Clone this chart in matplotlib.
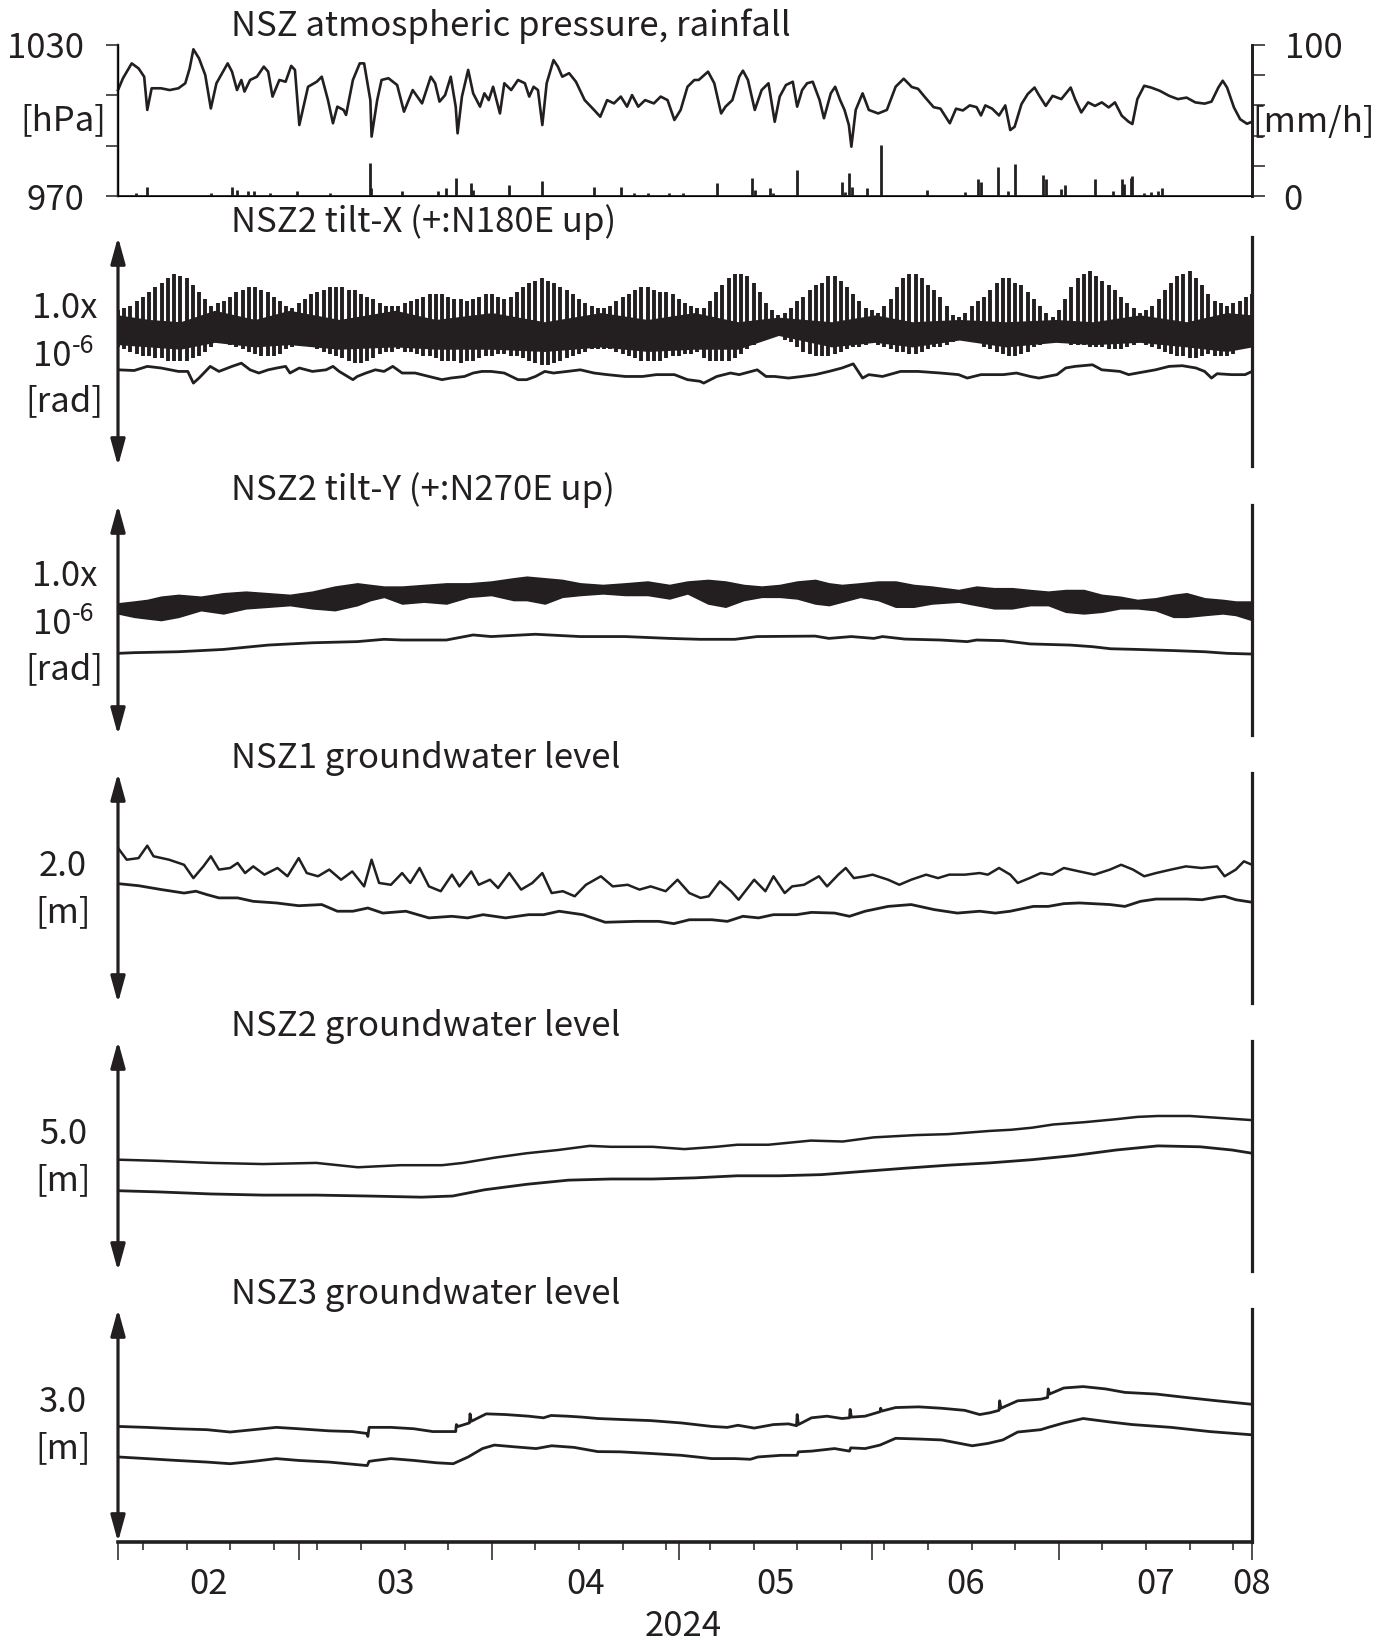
import numpy as np
import matplotlib.pyplot as plt
from matplotlib.transforms import ScaledTranslation

plt.rcParams['font.family'] = ['Noto Sans CJK JP', 'DejaVu Sans']

INK = '#231f20'
FIG_W, FIG_H = 1392, 1648
X0, X1 = 118, 1252            # left / right edge of the plots (pixels)
T0 = np.datetime64('2024-02-01')
N_DAYS = 182                  # 2024-02-01 .. 2024-08-01
FS = 25

# ---------------------------------------------------------------- data
# time in days since 2024-02-01

# atmospheric pressure (day, hPa)
pressure = [
    (0.0, 1012.1), (0.8, 1016.8), (2.2, 1022.7), (3.3, 1020.7), (4.2, 1017.4), (4.7, 1004.2),
    (5.4, 1012.8), (6.9, 1012.8), (8.3, 1012.1), (9.7, 1012.8), (10.8, 1014.8), (11.5, 1020.7),
    (12.1, 1028.3), (13.0, 1024.7), (14.0, 1018.1), (14.9, 1004.8), (15.8, 1014.8), (17.6, 1022.7),
    (18.3, 1019.4), (19.1, 1012.1), (19.8, 1016.1), (20.3, 1011.5), (21.2, 1016.1), (22.3, 1017.4),
    (23.4, 1021.4), (24.1, 1019.4), (24.8, 1009.5), (25.9, 1016.1), (26.9, 1015.4), (27.8, 1021.7),
    (28.4, 1020.1), (29.1, 998.2), (30.5, 1013.4), (31.9, 1015.4), (32.7, 1017.4), (33.7, 1008.1),
    (34.5, 998.9), (35.2, 1005.5), (36.2, 1004.2), (36.6, 1002.2), (37.7, 1016.1), (38.8, 1022.7),
    (39.5, 1022.7), (40.5, 1008.1), (40.7, 993.6), (41.6, 1008.1), (42.3, 1016.1), (43.4, 1016.8),
    (44.8, 1014.1), (45.9, 1003.5), (47.3, 1012.1), (48.8, 1006.8), (50.2, 1017.4), (50.9, 1014.8),
    (51.6, 1007.5), (52.5, 1010.1), (53.4, 1017.4), (54.2, 1005.5), (54.5, 994.9), (55.2, 1009.5),
    (56.2, 1020.1), (57.0, 1010.8), (58.1, 1005.5), (58.8, 1010.8), (59.5, 1008.1), (60.2, 1013.4),
    (61.3, 1002.8), (62.0, 1014.8), (63.1, 1012.1), (64.2, 1016.1), (65.3, 1014.8), (66.0, 1009.5),
    (66.7, 1013.4), (67.4, 1012.1), (68.1, 998.2), (68.8, 1014.8), (69.9, 1024.0), (70.6, 1021.4),
    (71.3, 1017.4), (72.4, 1018.8), (73.5, 1015.4), (74.9, 1008.1), (76.4, 1004.2), (77.4, 1001.5),
    (78.5, 1008.1), (79.6, 1006.8), (80.7, 1009.5), (81.7, 1005.5), (82.5, 1010.1), (83.5, 1005.5),
    (84.6, 1008.1), (86.0, 1006.8), (87.1, 1009.5), (88.2, 1008.1), (89.3, 1000.2), (90.3, 1004.2),
    (91.4, 1013.4), (92.5, 1016.1), (93.2, 1016.1), (94.7, 1019.4), (95.7, 1014.8), (96.8, 1002.8),
    (97.5, 1005.5), (98.6, 1008.1), (99.7, 1017.4), (100.3, 1019.8), (101.1, 1016.1), (102.2, 1004.2),
    (103.3, 1012.1), (104.4, 1014.8), (105.4, 999.5), (106.2, 1009.5), (107.2, 1014.1), (108.3, 1015.4),
    (109.0, 1005.5), (109.8, 1012.1), (110.6, 1014.8), (111.5, 1015.4), (112.6, 1008.1), (113.3, 1000.9),
    (114.4, 1010.8), (115.1, 1013.4), (115.9, 1008.1), (116.6, 1004.2), (117.3, 998.2), (117.7, 989.6),
    (118.4, 1004.2), (119.5, 1010.8), (120.5, 1004.2), (122.0, 1002.8), (123.4, 1004.2), (124.8, 1013.4),
    (126.1, 1016.6), (127.4, 1013.3), (128.4, 1012.6), (129.5, 1009.3), (130.9, 1005.3), (132.0, 1004.7),
    (133.5, 998.9), (134.5, 1004.7), (135.6, 1004.0), (136.7, 1006.0), (137.8, 1005.3), (138.5, 1002.0),
    (139.2, 1006.0), (140.3, 1004.7), (141.4, 1002.0), (142.4, 1006.0), (143.2, 996.2), (143.9, 997.5),
    (145.0, 1006.5), (146.0, 1010.5), (147.1, 1013.1), (147.8, 1010.1), (148.9, 1005.8), (150.0, 1009.8),
    (151.4, 1008.5), (152.9, 1013.1), (153.6, 1008.5), (154.6, 1003.2), (155.7, 1007.2), (156.8, 1005.8),
    (157.9, 1007.2), (159.0, 1005.2), (160.0, 1007.2), (161.1, 1001.9), (162.2, 999.5), (162.8, 998.6),
    (163.6, 1008.5), (164.7, 1013.8), (165.8, 1013.1), (167.2, 1011.8), (168.7, 1009.8), (170.1, 1008.5),
    (171.5, 1009.1), (172.9, 1007.2), (174.4, 1006.7), (175.5, 1007.5), (176.6, 1013.1), (177.3, 1015.8),
    (178.0, 1013.1), (179.1, 1005.2), (180.1, 1000.5), (181.2, 998.7), (182.0, 999.5),
]

# hourly rainfall peaks (day, mm/h)
rainfall = [
    (2.9, 1.8), (4.7, 6.2), (14.9, 2.0), (18.3, 6.0), (19.1, 4.0), (20.8, 3.5), (21.9, 3.0),
    (24.4, 2.0), (28.7, 3.0), (34.1, 2.0), (40.4, 21.6), (40.6, 5.0), (45.6, 3.5), (51.3, 3.0),
    (52.7, 5.0), (54.2, 11.7), (56.7, 8.4), (57.0, 4.0), (62.8, 7.3), (68.1, 10.0), (76.4, 5.7),
    (80.7, 6.2), (82.8, 2.0), (85.0, 1.8), (88.5, 2.0), (90.7, 1.8), (96.2, 8.3), (101.8, 12.0),
    (102.2, 4.0), (104.7, 5.5), (105.1, 2.0), (109.0, 17.0), (116.2, 9.0), (116.6, 2.6),
    (117.4, 15.3), (117.8, 6.0), (120.2, 5.5), (122.5, 33.8), (129.9, 3.9), (136.0, 2.6),
    (138.1, 11.0), (138.5, 9.0), (141.2, 19.0), (142.9, 3.3), (143.9, 21.0), (148.5, 14.0),
    (148.9, 11.0), (151.4, 4.8), (152.0, 7.6), (156.8, 11.0), (159.7, 3.3), (161.1, 11.0),
    (161.5, 8.0), (162.6, 12.0), (162.8, 13.0), (164.7, 1.7), (165.8, 2.5), (166.9, 3.3), (167.6, 5.5),
]

# levels below are in % of each panel's scale arrow (arbitrary offset)

# NSZ2 tilt-X: daily tidal extremes, day 0..182
tiltx_hi = [
    68, 69, 70, 72, 74, 76, 78, 80, 82, 84, 83, 82, 79, 76, 73, 70, 71, 72, 74, 76,
    77, 78, 78, 77, 76, 74, 72, 70, 69, 71, 73, 75, 76, 77, 78, 78, 78, 77, 77, 75,
    74, 73, 71, 70, 70, 70, 71, 72, 73, 74, 75, 75, 75, 74, 73, 73, 72, 73, 74, 75,
    75, 74, 73, 74, 76, 78, 80, 81, 82, 81, 80, 78, 77, 75, 73, 71, 70, 69, 69, 70,
    72, 74, 75, 77, 78, 78, 77, 76, 76, 75, 73, 71, 70, 69, 69, 72, 76, 79, 82, 84,
    84, 83, 80, 76, 71, 68, 66, 67, 69, 72, 74, 77, 79, 80, 83, 83, 81, 78, 75, 72,
    69, 68, 67, 70, 73, 78, 82, 84, 84, 82, 79, 77, 74, 70, 66, 65, 67, 70, 72, 74,
    77, 80, 82, 82, 80, 79, 76, 73, 70, 67, 65, 68, 73, 78, 82, 84, 85, 83, 81, 79,
    77, 74, 71, 69, 67, 68, 70, 73, 77, 80, 83, 84, 85, 82, 79, 75, 72, 71, 70, 71,
    72, 74, 75,
]
tiltx_lo = [
    52, 51, 50, 49, 48, 48, 47, 47, 46, 46, 46, 46, 47, 48, 50, 52, 54, 54, 53, 52,
    51, 50, 49, 48, 48, 48, 49, 51, 52, 53, 53, 52, 51, 50, 49, 48, 47, 46, 45, 45,
    46, 47, 49, 50, 50, 51, 50, 50, 49, 48, 48, 47, 46, 46, 46, 45, 46, 46, 47, 48,
    48, 49, 49, 48, 48, 47, 46, 45, 44, 44, 45, 46, 47, 48, 49, 50, 51, 51, 51, 51,
    50, 49, 48, 47, 46, 46, 46, 46, 47, 48, 48, 49, 49, 50, 47, 46, 46, 46, 46, 47,
    49, 51, 53, 55, 56, 57, 57, 55, 54, 52, 50, 49, 48, 48, 48, 49, 50, 51, 52, 52,
    53, 54, 53, 52, 51, 50, 50, 49, 49, 50, 51, 52, 52, 53, 54, 55, 56, 56, 54, 52,
    51, 50, 49, 48, 48, 49, 50, 52, 53, 54, 54, 54, 54, 53, 53, 53, 52, 52, 52, 51,
    51, 51, 52, 53, 54, 53, 52, 51, 50, 49, 48, 48, 47, 47, 48, 49, 48, 48, 48, 49,
    51, 52, 52,
]
# dense part of the tidal band (day, top, bottom)
tiltx_core = [
    (0, 66, 53), (5, 64, 52), (10, 63, 51), (15.5, 68, 54), (22, 64, 52), (27.5, 68, 53),
    (35.5, 64, 51), (44.5, 68, 52), (51, 64, 51), (60, 67, 51), (68.5, 63, 50), (77.5, 67, 52),
    (85, 64, 50), (92.5, 67, 51), (99.5, 63, 51), (106, 65, 57), (114.5, 63, 52), (121.5, 66, 54),
    (127.5, 63, 52), (135, 64, 55), (142.5, 63, 52), (150.5, 64, 54), (156.5, 63, 53),
    (164, 66, 54), (171.5, 63, 52), (178, 67, 50), (182, 66, 52),
]
# residual tilt-X (day, level)
tiltx_res = [
    (0, 42.0), (2.6, 41.7), (4.7, 43.5), (6.9, 42.8), (9.7, 41.3), (11.2, 41.3), (12.1, 36.2),
    (13.0, 38.4), (14.8, 43.5), (16.2, 41.3), (18.3, 43.5), (19.8, 44.9), (21.2, 42.0), (22.6, 40.6),
    (24.1, 42.0), (25.5, 42.8), (26.9, 43.5), (27.6, 40.6), (29.1, 42.8), (31.2, 41.3), (33.4, 42.0),
    (34.5, 43.5), (35.5, 41.3), (37.7, 37.7), (38.4, 39.1), (39.8, 40.6), (41.3, 42.0), (42.7, 41.3),
    (44.1, 43.5), (45.6, 40.6), (47.7, 40.6), (49.9, 39.1), (52.0, 37.7), (53.4, 38.4), (55.6, 39.1),
    (57.0, 40.6), (58.4, 41.3), (59.9, 41.3), (62.0, 40.6), (64.2, 37.7), (65.6, 37.7), (67.0, 39.1),
    (68.5, 41.3), (69.9, 40.6), (72.1, 41.3), (74.2, 42.0), (76.4, 40.6), (78.5, 39.9), (81.4, 39.1),
    (84.2, 39.1), (86.4, 39.9), (89.3, 39.9), (91.4, 37.7), (93.4, 37.0), (94.0, 36.2), (96.1, 39.1),
    (98.3, 40.6), (99.7, 39.9), (102.6, 42.0), (104.0, 39.1), (105.4, 39.1), (107.6, 38.4),
    (109.8, 39.1), (111.9, 39.9), (114.1, 41.3), (116.2, 42.8), (118.0, 44.6), (119.5, 38.4),
    (120.5, 39.9), (122.7, 39.1), (125.6, 41.3), (128.4, 41.3), (132.0, 40.6), (134.9, 39.9),
    (136.3, 38.4), (138.5, 39.9), (142.1, 39.9), (144.2, 40.6), (146.4, 39.1), (147.8, 38.4),
    (150.7, 39.9), (152.1, 42.8), (153.6, 43.5), (156.4, 44.2), (157.9, 42.0), (160.8, 41.3),
    (162.2, 39.9), (163.6, 40.6), (166.5, 42.0), (168.7, 43.5), (170.8, 43.8), (173.0, 42.8),
    (174.4, 41.3), (175.5, 38.4), (176.4, 40.3), (178.7, 39.9), (180.9, 39.9), (182.0, 41.3),
]

# NSZ2 tilt-Y: tidal band (day, top, bottom) and residual (day, level)
tilty_band = [
    (0, 57.2, 52.9), (2.6, 58.0, 51.4), (4.7, 58.7, 50.7), (6.9, 60.1, 50.0), (9.7, 60.9, 51.4),
    (13.3, 60.1, 54.3), (16.9, 61.6, 52.9), (20.5, 62.3, 55.1), (24.1, 61.6, 55.8), (27.6, 60.9, 56.5),
    (31.2, 62.3, 55.1), (34.8, 64.5, 54.3), (38.4, 65.9, 56.5), (40.5, 65.2, 58.7), (42.7, 64.5, 60.1),
    (45.6, 64.5, 57.2), (49.1, 65.2, 58.0), (52.7, 65.9, 57.2), (56.3, 65.9, 60.1), (59.9, 66.7, 60.9),
    (63.5, 68.1, 58.7), (65.6, 68.8, 58.7), (68.5, 68.1, 57.2), (71.3, 67.4, 60.1), (74.2, 65.9, 60.9),
    (77.8, 65.2, 61.6), (81.4, 65.9, 60.9), (85.0, 66.7, 60.9), (88.5, 65.2, 59.4), (91.4, 66.7, 61.6),
    (94.7, 67.4, 57.2), (97.5, 66.7, 55.8), (100.4, 65.2, 58.7), (103.3, 64.5, 60.1), (106.2, 65.2, 60.1),
    (109.0, 66.7, 59.4), (111.9, 67.4, 57.2), (114.1, 65.9, 56.5), (116.2, 65.2, 58.0), (119.1, 65.9, 60.1),
    (122.0, 66.7, 58.7), (124.8, 66.7, 55.8), (127.7, 65.2, 55.8), (130.6, 64.5, 57.2), (134.9, 63.0, 58.0),
    (137.8, 64.5, 56.5), (140.6, 63.8, 55.1), (143.5, 63.8, 55.1), (146.4, 63.0, 56.5), (149.3, 62.3, 56.5),
    (152.1, 63.0, 53.6), (155.0, 63.0, 52.9), (157.9, 60.9, 53.6), (160.8, 60.1, 55.1), (163.6, 58.7, 55.1),
    (166.5, 59.4, 54.3), (169.4, 60.9, 51.4), (171.5, 61.6, 51.4), (174.4, 59.4, 52.2), (177.3, 58.7, 52.9),
    (179.4, 58.0, 52.2), (182.0, 58.0, 50.0),
]
tilty_res = [
    (0, 35.5), (2.6, 35.8), (9.7, 36.2), (16.9, 37.2), (24.1, 39.1), (31.2, 40.1), (38.4, 40.6),
    (42.7, 41.6), (45.6, 41.3), (49.9, 41.3), (52.7, 41.3), (57.0, 43.5), (59.9, 42.8), (67.0, 43.8),
    (74.2, 42.8), (81.4, 42.8), (88.5, 42.0), (93.4, 41.6), (99.0, 41.6), (102.6, 42.8), (111.9, 43.0),
    (114.1, 42.0), (117.7, 42.8), (121.3, 42.0), (122.7, 42.8), (126.3, 41.7), (132.0, 41.3),
    (136.3, 40.6), (137.8, 41.3), (142.1, 41.0), (146.4, 39.6), (152.8, 39.1), (156.4, 38.4),
    (159.3, 37.5), (163.6, 37.2), (169.4, 36.7), (174.4, 36.2), (178.0, 35.5), (182.0, 35.2),
]

# groundwater levels: raw (upper trace) and corrected (lower trace), (day, level)
gw1_raw = [
    (0, 67.4), (1.4, 62.3), (3.3, 63.0), (4.7, 68.4), (5.7, 63.8), (8.2, 62.3), (10.6, 60.1),
    (12.1, 54.3), (13.7, 59.4), (14.9, 63.8), (16.2, 58.0), (18.0, 58.7), (19.2, 60.9), (20.4, 56.5),
    (21.7, 59.4), (23.5, 55.8), (25.6, 58.7), (27.2, 55.1), (29.0, 63.0), (30.3, 56.5), (32.1, 55.1),
    (33.9, 58.0), (35.8, 53.6), (37.6, 57.2), (39.5, 50.7), (40.7, 62.3), (41.9, 52.2), (43.8, 51.4),
    (45.6, 56.5), (46.9, 52.2), (48.4, 58.7), (49.9, 50.7), (51.8, 48.6), (53.6, 55.8), (54.8, 50.7),
    (56.7, 57.2), (57.9, 51.4), (59.7, 53.6), (61.0, 50.0), (62.8, 56.5), (64.7, 49.3), (66.5, 52.2),
    (68.1, 56.5), (69.6, 47.8), (71.4, 48.6), (73.3, 46.4), (75.1, 51.4), (77.5, 55.1), (79.4, 50.7),
    (81.8, 51.4), (83.7, 49.3), (85.5, 50.7), (87.9, 48.6), (89.8, 53.6), (91.7, 47.8), (93.5, 45.7),
    (94.8, 46.4), (96.6, 52.9), (98.4, 48.6), (99.6, 44.9), (102.1, 53.6), (103.9, 48.6), (105.2, 55.1),
    (107.0, 47.8), (108.2, 50.7), (110.1, 51.4), (112.5, 55.1), (113.8, 50.7), (115.6, 55.8),
    (116.8, 58.7), (118.1, 54.3), (119.9, 55.1), (121.1, 55.8), (123.6, 53.6), (125.4, 51.4),
    (127.3, 53.6), (129.7, 55.8), (131.6, 54.3), (133.4, 55.8), (135.9, 55.8), (138.3, 56.5),
    (139.6, 55.8), (141.4, 58.7), (143.2, 55.8), (144.4, 52.2), (146.3, 54.3), (148.1, 56.5),
    (149.9, 55.8), (151.8, 58.7), (154.3, 57.2), (156.7, 55.8), (159.2, 58.0), (161.0, 60.1),
    (162.9, 58.0), (164.7, 55.1), (166.6, 56.5), (169.0, 58.0), (171.4, 59.4), (173.9, 58.7),
    (176.4, 59.4), (177.6, 55.1), (179.4, 58.0), (180.7, 61.6), (182.0, 60.1),
]
gw1_cor = [
    (0, 51.9), (3.3, 51.0), (7.0, 49.3), (10.6, 47.8), (12.5, 48.6), (14.3, 47.1), (16.2, 45.7),
    (19.2, 45.7), (21.7, 44.2), (25.4, 43.5), (29.0, 42.3), (32.7, 42.8), (35.2, 39.9), (37.7, 39.9),
    (40.1, 41.3), (42.5, 39.1), (46.2, 39.9), (49.9, 37.0), (53.6, 37.7), (56.1, 37.0), (58.6, 38.4),
    (62.2, 37.0), (65.9, 38.4), (68.3, 38.4), (70.8, 39.9), (74.6, 38.4), (78.2, 35.1), (83.1, 35.5),
    (86.8, 35.5), (89.2, 34.5), (91.7, 36.2), (95.3, 36.2), (97.8, 35.5), (100.3, 37.7), (102.8, 37.0),
    (105.2, 38.4), (108.9, 38.4), (111.3, 39.4), (115.0, 39.1), (117.4, 37.7), (119.9, 39.9),
    (123.6, 42.0), (127.3, 42.8), (131.0, 40.6), (134.7, 39.1), (138.3, 39.9), (140.8, 39.1),
    (143.2, 39.9), (146.9, 42.0), (149.3, 42.0), (151.8, 43.2), (154.3, 43.5), (159.2, 42.8),
    (161.6, 42.0), (164.1, 44.2), (166.6, 45.2), (171.5, 45.2), (174.0, 44.9), (176.4, 46.1),
    (177.6, 46.4), (179.4, 44.9), (182.0, 43.8),
]
gw2_raw = [
    (0, 48.4), (6.4, 47.9), (14.9, 47.0), (23.3, 46.5), (31.8, 47.0), (38.5, 45.1), (45.3, 46.0),
    (52.0, 46.0), (55.4, 47.0), (60.5, 49.3), (65.6, 51.2), (70.6, 52.6), (75.7, 54.4), (79.1, 54.0),
    (85.8, 54.0), (90.9, 53.0), (96.0, 54.0), (99.4, 54.9), (104.4, 54.9), (111.2, 56.7), (116.3, 56.3),
    (121.3, 58.1), (128.1, 59.1), (133.2, 59.5), (139.9, 60.9), (143.3, 61.4), (146.7, 62.3),
    (150.1, 63.7), (155.1, 64.7), (160.2, 66.0), (163.6, 67.0), (166.9, 67.4), (172.0, 67.4),
    (177.1, 66.5), (182.0, 65.6),
]
gw2_cor = [
    (0, 34.9), (6.4, 34.4), (14.9, 33.5), (23.3, 33.0), (31.8, 33.0), (40.2, 32.6), (48.7, 32.1),
    (53.7, 32.6), (58.8, 35.3), (65.6, 37.7), (72.3, 39.5), (79.1, 40.0), (85.8, 40.0), (92.6, 40.5),
    (99.4, 41.4), (106.1, 41.4), (112.9, 41.9), (119.6, 43.3), (126.4, 44.7), (133.2, 46.0),
    (139.9, 47.0), (146.7, 48.4), (153.4, 50.2), (160.2, 52.6), (166.9, 54.4), (173.7, 54.0),
    (178.8, 52.6), (182.0, 51.2),
]
gw3_raw = [
    (0, 49.6), (4.5, 49.2), (9.4, 48.6), (14.3, 48.2), (18.0, 47.2), (21.7, 48.2), (25.4, 49.2),
    (29.0, 48.6), (33.9, 47.7), (37.6, 47.4), (39.9, 46.6), (40.1, 45.3), (40.3, 49.2), (43.8, 49.2),
    (47.5, 48.6), (50.5, 47.4), (54.2, 47.4), (54.3, 50.4), (54.6, 49.6), (56.4, 51.1), (56.5, 55.0),
    (56.7, 51.8), (59.1, 55.0), (62.2, 54.7), (65.9, 54.0), (68.3, 53.3), (69.5, 54.3), (72.1, 54.0),
    (74.5, 53.6), (77.0, 53.0), (80.6, 52.6), (85.5, 52.1), (90.4, 51.1), (95.3, 49.6), (97.8, 49.2),
    (99.5, 50.1), (102.1, 48.9), (105.2, 50.4), (107.6, 50.7), (108.9, 49.9), (109.0, 54.7),
    (109.2, 50.4), (111.3, 53.3), (113.8, 54.0), (116.2, 53.0), (117.4, 53.3), (117.5, 56.9),
    (117.7, 53.6), (119.9, 54.0), (122.3, 55.9), (122.4, 57.4), (122.6, 56.2), (124.8, 57.7),
    (128.5, 58.0), (132.2, 57.4), (135.9, 56.5), (138.3, 54.7), (140.0, 55.5), (141.4, 56.5),
    (141.5, 60.6), (141.7, 57.4), (144.4, 60.6), (148.1, 61.3), (149.2, 62.0), (149.3, 65.7),
    (149.5, 63.5), (151.8, 66.1), (154.9, 66.7), (158.5, 65.7), (161.6, 64.2), (166.6, 63.5),
    (171.5, 62.0), (176.4, 60.6), (182.0, 59.1),
]
gw3_cor = [
    (0, 36.5), (4.5, 35.8), (9.4, 35.0), (14.3, 34.3), (18.0, 33.6), (21.7, 34.6), (25.4, 35.8),
    (29.0, 35.0), (33.9, 34.3), (40.0, 32.8), (40.3, 34.6), (41.3, 35.0), (43.8, 35.8), (47.5, 35.0),
    (51.1, 34.0), (53.8, 33.6), (56.2, 36.5), (58.5, 40.1), (60.4, 41.6), (63.4, 40.9), (67.1, 40.1),
    (69.6, 41.3), (73.2, 40.6), (77.0, 38.8), (80.6, 38.7), (85.5, 38.0), (90.4, 37.2), (95.3, 35.8),
    (99.0, 35.8), (101.5, 35.5), (102.7, 36.5), (106.4, 37.2), (109.0, 37.2), (109.2, 38.7),
    (111.3, 39.0), (115.0, 40.1), (117.4, 39.0), (117.6, 40.4), (119.9, 40.1), (122.3, 41.6),
    (124.8, 44.5), (128.5, 44.2), (132.2, 43.8), (137.1, 41.3), (139.6, 42.3), (142.0, 43.8),
    (144.4, 47.2), (148.1, 48.2), (149.3, 49.2), (151.8, 51.1), (154.9, 53.0), (159.2, 51.5),
    (162.8, 50.4), (169.0, 49.2), (175.2, 47.4), (182.0, 46.0),
]

month_labels = ['02', '03', '04', '05', '06', '07', '08']


# ---------------------------------------------------------------- helpers
def frame(top, bottom):
    return [X0 / FIG_W, 1 - bottom / FIG_H, (X1 - X0) / FIG_W, (bottom - top) / FIG_H]


def fy(y):
    return 1 - y / FIG_H


def pairs(series):
    arr = np.array(series, dtype=float)
    return arr[:, 0], arr[:, 1]


def label(x, y, s, ha='center', size=FS):
    fig.text(x / FIG_W, fy(y), s, fontsize=size, color=INK, ha=ha, va='center')


def scale_panel(top, bottom, title):
    ax = fig.add_axes(frame(top, bottom))
    ax.patch.set_alpha(0)
    ax.set_xlim(0, N_DAYS)
    ax.set_ylim(0, 100)
    for side in ['top', 'bottom', 'left']:
        ax.spines[side].set_visible(False)
    ax.spines['right'].set_linewidth(2.3)
    ax.spines['right'].set_color(INK)
    ax.set_xticks([])
    ax.set_yticks([])
    ax.annotate('', xy=(0, 1), xytext=(0, 0), xycoords='axes fraction',
                arrowprops=dict(arrowstyle='<|-|>,head_length=0.8,head_width=0.22',
                                lw=2.3, color=INK, mutation_scale=20,
                                shrinkA=0, shrinkB=0))
    label(231, top - 15, title, ha='left')
    return ax


def tilt_labels(top):
    label(65, top + 72, '1.0x')
    label(33, top + 119, '10', ha='left')
    label(72, top + 109, '-6', ha='left', size=FS * 0.72)
    label(64, top + 165, '[rad]')


def gw_labels(top, value):
    label(63, top + 94, value)
    label(63, top + 140, '[m]')


def trace(ax, series, lw=2.0):
    d, v = pairs(series)
    ax.plot(d, v, color=INK, lw=lw, solid_joinstyle='round')


fig = plt.figure(figsize=(FIG_W / 100, FIG_H / 100), dpi=100)

# ---------------------------------------------------------------- pressure / rain
ax_p = fig.add_axes(frame(45, 196))
ax_p.patch.set_alpha(0)
ax_p.set_xlim(0, N_DAYS)
ax_p.set_ylim(970, 1030)
d, v = pairs(pressure)
ax_p.plot(d, v, color=INK, lw=1.9, clip_on=False, solid_joinstyle='round')
ax_p.spines['top'].set_visible(False)
ax_p.spines['left'].set_linewidth(1.7)
ax_p.spines['bottom'].set_linewidth(1.3)
ax_p.spines['right'].set_linewidth(2.0)
for s in ax_p.spines.values():
    s.set_color(INK)
ax_p.set_xticks([])
ax_p.set_yticks([970, 990, 1010, 1030])
ax_p.tick_params(axis='y', length=9, width=1.1, color=INK, labelleft=False, direction='out')

ax_r = ax_p.twinx()
ax_r.set_ylim(0, 100)
rd, rv = pairs(rainfall)
ax_r.vlines(rd, 0, rv, color=INK, lw=2.0)
ax_r.spines['top'].set_visible(False)
ax_r.spines['right'].set_linewidth(2.0)
ax_r.spines['right'].set_color(INK)
ax_r.set_yticks([0, 20, 40, 60, 80, 100])
ax_r.tick_params(axis='y', length=9, width=1.1, color=INK, labelright=False, direction='out')

label(231, 26, 'NSZ atmospheric pressure, rainfall', ha='left')
label(84, 48, '1030', ha='right')
label(84, 200, '970', ha='right')
label(63, 121, '[hPa]')
label(1285, 48, '100', ha='left')
label(1283, 200, '0', ha='left')
label(1252, 123, '[mm/h]', ha='left')

# ---------------------------------------------------------------- tilt-X
ax = scale_panel(237, 466, 'NSZ2 tilt-X (+:N180E up)')
days = np.arange(len(tiltx_hi))
core = np.array(tiltx_core, dtype=float)
ax.fill_between(core[:, 0], core[:, 2], core[:, 1], color=INK, lw=0)
ax.vlines(days, tiltx_lo, tiltx_hi, color=INK, lw=2.8)
trace(ax, tiltx_res)
tilt_labels(237)

# ---------------------------------------------------------------- tilt-Y
ax = scale_panel(505, 735, 'NSZ2 tilt-Y (+:N270E up)')
band = np.array(tilty_band, dtype=float)
ax.fill_between(band[:, 0], band[:, 2], band[:, 1], color=INK, lw=1.2, edgecolor=INK)
trace(ax, tilty_res)
tilt_labels(505)

# ---------------------------------------------------------------- groundwater
ax = scale_panel(773, 1003, 'NSZ1 groundwater level')
trace(ax, gw1_raw, lw=1.8)
trace(ax, gw1_cor)
gw_labels(773, '2.0')

ax = scale_panel(1041, 1271, 'NSZ2 groundwater level')
trace(ax, gw2_raw, lw=1.8)
trace(ax, gw2_cor)
gw_labels(1041, '5.0')

ax = scale_panel(1309, 1542, 'NSZ3 groundwater level')
trace(ax, gw3_raw)
trace(ax, gw3_cor)
gw_labels(1309, '3.0')

# ---------------------------------------------------------------- time axis
ax.spines['bottom'].set_visible(True)
ax.spines['bottom'].set_linewidth(2.6)
ax.spines['bottom'].set_color(INK)
months = np.arange('2024-02', '2024-09', dtype='datetime64[M]').astype('datetime64[D]')
month_days = (months - T0).astype(int)
mondays = (np.arange(np.datetime64('2024-02-05'), np.datetime64('2024-08-01'), 7) - T0).astype(int)
ax.set_xticks(month_days)
ax.set_xticks(mondays, minor=True)
ax.tick_params(axis='x', which='major', length=13, width=1.1, color=INK, labelbottom=False)
ax.tick_params(axis='x', which='minor', length=6, width=1.1, color=INK)
label_pos = list((month_days[:-1] + month_days[1:]) / 2) + [month_days[-1]]
shift = ax.get_xaxis_transform() + ScaledTranslation(0, -0.43, fig.dpi_scale_trans)
for pos, lab in zip(label_pos, month_labels):
    ax.text(pos, 0, lab, transform=shift, fontsize=FS, color=INK, ha='center', va='center')
label(683, 1627, '2024')

fig.savefig('out.png', dpi=100)
